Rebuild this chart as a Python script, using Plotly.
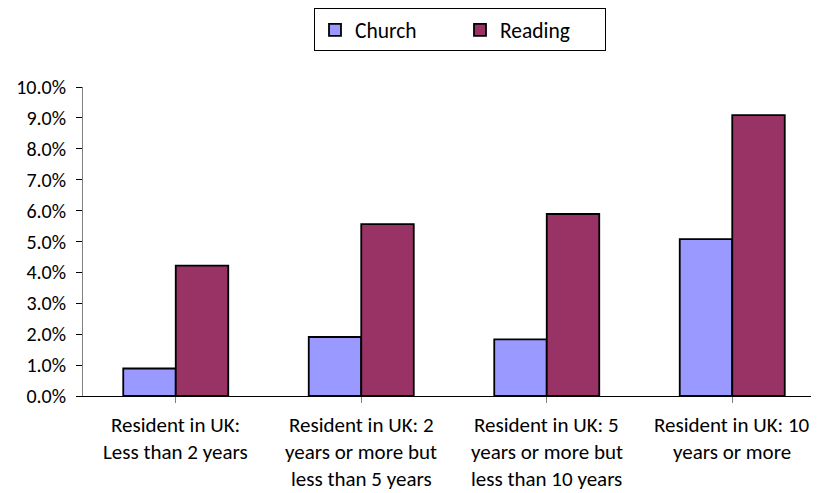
import plotly.graph_objects as go

categories = [
    "Resident in UK:<br>Less than 2 years",
    "Resident in UK: 2<br>years or more but<br>less than 5 years",
    "Resident in UK: 5<br>years or more but<br>less than 10 years",
    "Resident in UK: 10<br>years or more",
]
church = [0.0089, 0.0191, 0.0183, 0.0508]
reading = [0.0422, 0.0556, 0.0589, 0.0909]
series_names = ["Church", "Reading"]
colors = ["#9999FF", "#993366"]

FONT = "Calibri, Carlito, Lato, sans-serif"
FS_TICK = 20
FS_CAT = 21
FS_LEG = 21.5

fig = go.Figure()
for name, vals, col in zip(series_names, [church, reading], colors):
    fig.add_trace(go.Bar(
        x=list(range(len(categories))), y=vals, name=name,
        marker=dict(color=col, line=dict(color="black", width=1.8)),
    ))

# category labels as annotations (for Excel-like line spacing)
for i, lab in enumerate(categories):
    for k, line in enumerate(lab.split("<br>")):
        fig.add_annotation(
            x=i, xref="x", y=0, yref="paper", yanchor="middle",
            yshift=-29 - 27 * k, text=line, showarrow=False,
            font=dict(family=FONT, size=FS_CAT, color="black"),
        )

fig.update_layout(
    width=819, height=493,
    margin=dict(l=75, r=2, t=79, b=105),
    paper_bgcolor="white", plot_bgcolor="white",
    barmode="group", bargap=0.434, bargroupgap=0,
    font=dict(family=FONT, size=FS_TICK, color="black"),
    showlegend=True,
    legend=dict(
        orientation="h", xref="container", yref="container",
        x=452 / 819, xanchor="center", y=0.999, yanchor="top",
        bordercolor="black", borderwidth=1, bgcolor="white",
        font=dict(family=FONT, size=FS_LEG, color="black"),
        entrywidth=100,
    ),
    xaxis=dict(
        range=[-0.5, 3.5], showticklabels=False,
        tickmode="array", tickvals=list(range(len(categories))),
        tickson="boundaries", ticks="outside", ticklen=6, tickcolor="#808080",
        showline=True, linecolor="black", linewidth=1, showgrid=False, zeroline=False,
    ),
    yaxis=dict(
        range=[0, 0.10], dtick=0.01, tick0=0, tickformat=".1%",
        ticks="outside", ticklen=6, tickcolor="black", ticklabelstandoff=6,
        showline=True, linecolor="#808080", linewidth=1,
        showgrid=False, zeroline=False,
        tickfont=dict(family=FONT, size=FS_TICK, color="black"),
    ),
)

fig.write_html("out.html")
